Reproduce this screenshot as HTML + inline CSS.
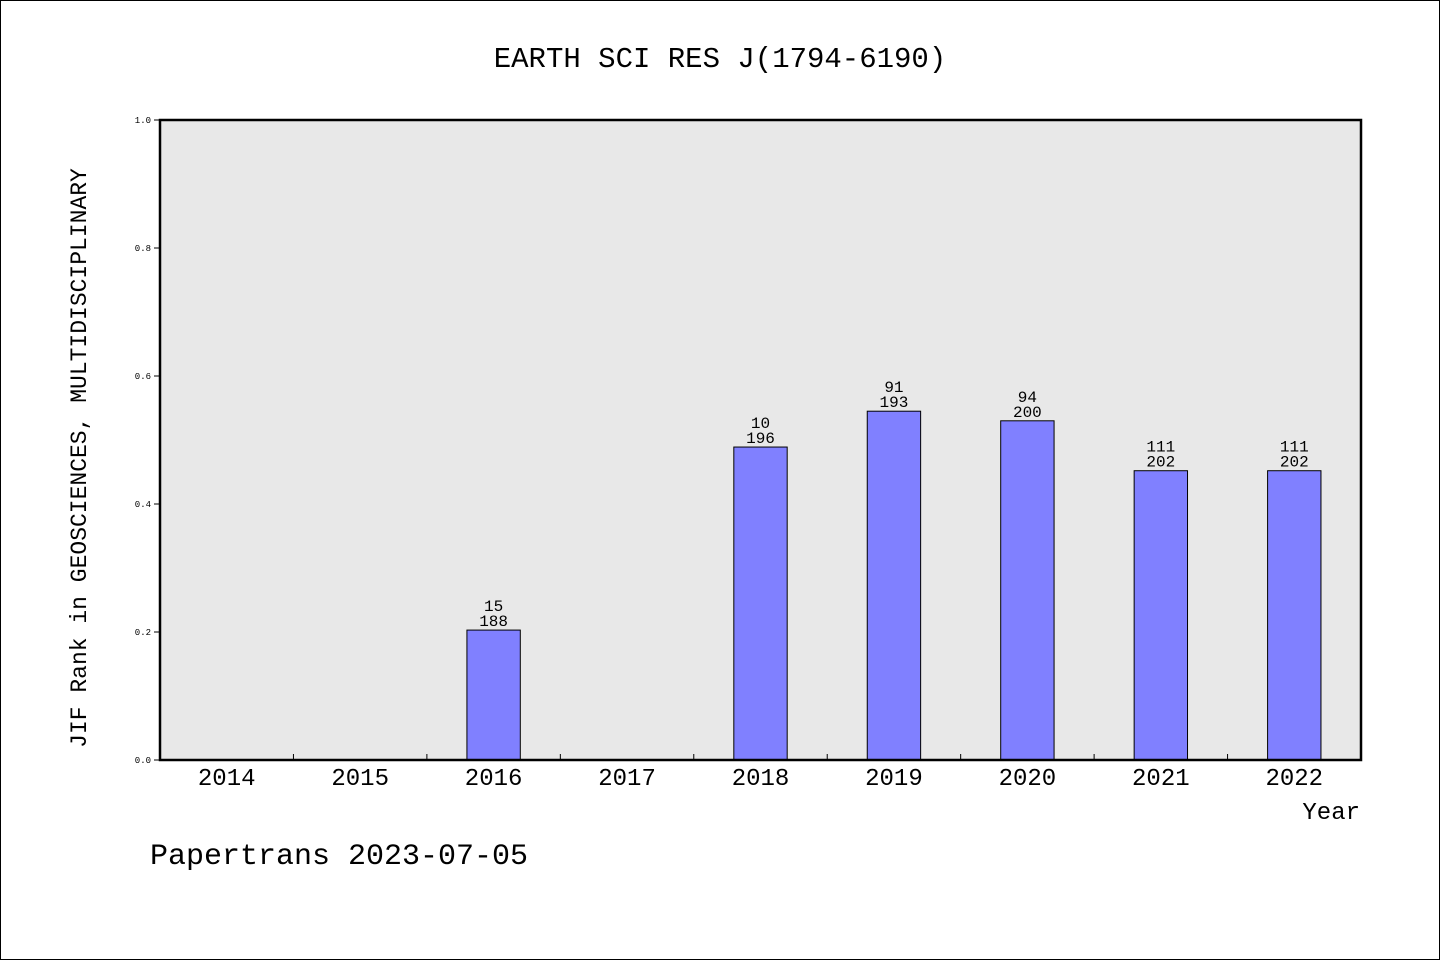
<!DOCTYPE html>
<html><head><meta charset="utf-8"><style>
body{margin:0;background:#fff}
svg text{font-family:"Liberation Mono","WenQuanYi Zen Hei",monospace;fill:#000}
</style></head><body>
<svg id="c" width="1440" height="960" xmlns="http://www.w3.org/2000/svg">
<rect x="0.5" y="0.5" width="1439" height="959" fill="#fff" stroke="#000"/>
<text x="720" y="67" font-size="29" text-anchor="middle">EARTH SCI RES J(1794-6190)</text>
<rect x="160" y="120" width="1201" height="640" fill="#e8e8e8"/>
<g id="marks"></g>
<rect x="160" y="120" width="1201" height="640" fill="none" stroke="#000" stroke-width="2.5"/>
<text transform="translate(86,458) rotate(-90)" font-size="23" text-anchor="middle">JIF Rank in GEOSCIENCES, MULTIDISCIPLINARY</text>
<text x="1360" y="819" font-size="24" text-anchor="end">Year</text>
<text x="150" y="864" font-size="30">Papertrans 2023-07-05</text>
</svg>
<script>
const years=["2014","2015","2016","2017","2018","2019","2020","2021","2022"];
const values=[null,null,0.203,null,0.489,0.545,0.530,0.452,0.452];
const ranks=[null,null,"15",null,"10","91","94","111","111"];
const totals=[null,null,"188",null,"196","193","200","202","202"];
const yTicks=["0.0","0.2","0.4","0.6","0.8","1.0"];
const X0=160,W=1201,Y0=760,H=640,band=W/years.length;
const xc=i=>X0+(i+0.5)*band;
const y=v=>Y0-v*H;
const g=document.getElementById('marks');
const NS="http://www.w3.org/2000/svg";
function mk(t,a){const e=document.createElementNS(NS,t);for(const k in a)e.setAttribute(k,a[k]);g.appendChild(e);return e;}
yTicks.forEach(t=>{const v=parseFloat(t);
 const l=mk('line',{x1:154,x2:160,y1:y(v),y2:y(v),stroke:'#000'});
 
 
 const tx=mk('text',{x:151,y:y(v)+3,'font-size':9,'text-anchor':'end'});tx.textContent=t;
 
 
});
years.forEach((yr,i)=>{
 if(i>0){const l=mk('line',{x1:X0+i*band,x2:X0+i*band,y1:754,y2:760,stroke:'#000'});
  
  }
 const tx=mk('text',{x:xc(i),y:785,'font-size':24,'text-anchor':'middle'});tx.textContent=yr;
 
 
 if(values[i]!=null){
  const bw=band*0.4;
  const r=mk('rect',{x:xc(i)-bw/2,y:y(values[i]),width:bw,height:Y0-y(values[i]),fill:'#8080ff',stroke:'#000','stroke-width':1});
  
  
  const a=mk('text',{x:xc(i),y:y(values[i])-19,'font-size':16,'text-anchor':'middle'});a.textContent=ranks[i];
  
  
  const b=mk('text',{x:xc(i),y:y(values[i])-4,'font-size':16,'text-anchor':'middle'});b.textContent=totals[i];
  
  
 }
});
</script>
</body></html>
